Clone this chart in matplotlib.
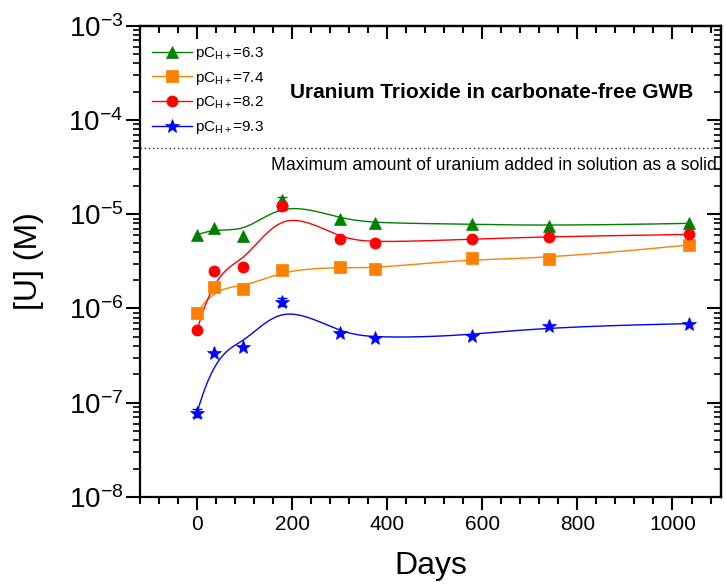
import numpy as np
import matplotlib
matplotlib.use("Agg")
import matplotlib.pyplot as plt
from matplotlib.ticker import MultipleLocator, LogLocator, NullFormatter
from matplotlib.lines import Line2D

plt.rcParams['font.family'] = ['Liberation Sans', 'DejaVu Sans']
plt.rcParams['mathtext.fontset'] = 'custom'
plt.rcParams['mathtext.rm'] = 'Liberation Sans'
plt.rcParams['mathtext.it'] = 'Liberation Sans:italic'
plt.rcParams['mathtext.bf'] = 'Liberation Sans:bold'
plt.rcParams['mathtext.default'] = 'regular'
plt.rcParams['axes.unicode_minus'] = False

# ---------------------------------------------------------------------------
# Data
# ---------------------------------------------------------------------------
days = [0, 36, 97, 178, 300, 375, 578, 740, 1034]

u_63 = [6.0e-6, 7.2e-6, 5.9e-6, 1.40e-5, 9.0e-6, 8.0e-6, 7.9e-6, 7.5e-6, 8.0e-6]
u_74 = [9.0e-7, 1.68e-6, 1.62e-6, 2.55e-6, 2.75e-6, 2.65e-6, 3.42e-6, 3.36e-6, 4.72e-6]
u_82 = [5.85e-7, 2.52e-6, 2.74e-6, 1.23e-5, 5.45e-6, 5.0e-6, 5.43e-6, 5.8e-6, 6.1e-6]
u_93 = [7.8e-8, 3.37e-7, 3.95e-7, 1.18e-6, 5.5e-7, 4.85e-7, 5.12e-7, 6.45e-7, 6.9e-7]

err_63 = [0, 0, 0, 1.2e-6, 0, 0, 0, 0, 0]
err_82 = [0, 0, 0, 1.2e-6, 0, 0, 0, 0, 0]
err_93 = [8e-9, 0, 0, 1.1e-7, 0, 0, 0, 0, 0]

labels = ['6.3', '7.4', '8.2', '9.3']
colors = ['#008000', '#FF8000', '#FF0000', '#0000FF']
markers = ['^', 's', 'o', '*']

max_added = 5e-5


# ---------------------------------------------------------------------------
# Clamped cubic B-spline with the data as control points (in x, log y)
# ---------------------------------------------------------------------------
def bspline_curve(xs, ys, deg=3, n_out=400):
    P = np.column_stack([np.asarray(xs, float), np.log10(ys)])
    n = len(P)
    knots = np.concatenate([np.zeros(deg), np.arange(n - deg + 1),
                            np.full(deg, n - deg)]).astype(float)
    t = np.linspace(0, n - deg, n_out)
    B = np.zeros((len(t), len(knots) - 1))
    for i in range(len(knots) - 1):
        B[:, i] = (t >= knots[i]) & (t < knots[i + 1])
    last = np.where(knots[:-1] < knots[-1])[0][-1]
    B[t == knots[-1], last] = 1.0
    for d in range(1, deg + 1):
        Bn = np.zeros((len(t), len(knots) - 1 - d))
        for i in range(len(knots) - 1 - d):
            den1 = knots[i + d] - knots[i]
            den2 = knots[i + d + 1] - knots[i + 1]
            a = (t - knots[i]) / den1 * B[:, i] if den1 > 0 else 0.0
            b = (knots[i + d + 1] - t) / den2 * B[:, i + 1] if den2 > 0 else 0.0
            Bn[:, i] = a + b
        B = Bn
    C = B @ P
    return C[:, 0], 10 ** C[:, 1]


fig = plt.figure(figsize=(7.26, 5.85), dpi=100)
ax = fig.add_axes([0.1928, 0.1504, 0.8003, 0.8057])
ax.set_yscale('log')

series = [u_63, u_74, u_82, u_93]
errs = [err_63, None, err_82, err_93]

for vals, err, c, m in zip(series, errs, colors, markers):
    cx, cy = bspline_curve(days, vals)
    ax.plot(cx, cy, '-', color=c, lw=1.0, zorder=2)
    ms = 10 if m == '*' else 8
    ax.plot(days, vals, linestyle='none', marker=m, color=c, ms=ms,
            mec=c, mew=0.5, zorder=3)
    if err is not None:
        d = np.array(days)
        v = np.array(vals)
        e = np.array(err)
        k = e > 0
        ax.errorbar(d[k], v[k], yerr=e[k], fmt='none', ecolor=c,
                    elinewidth=1.0, capsize=3.5, capthick=1.0, zorder=3)

ax.axhline(max_added, color='#333333', lw=1.0, ls=(0, (1, 2)), zorder=1)
ax.text(0.993, 0.704, 'Maximum amount of uranium added in solution as a solid',
        transform=ax.transAxes, ha='right', va='center', fontsize=12.7)
ax.text(0.606, 0.859, 'Uranium Trioxide in carbonate-free GWB',
        transform=ax.transAxes, ha='center', va='center', fontsize=15,
        fontweight='bold')

ax.set_xlim(-120, 1102)
ax.set_ylim(1e-8, 1e-3)

ax.xaxis.set_major_locator(MultipleLocator(200))
ax.xaxis.set_minor_locator(MultipleLocator(40))
ax.yaxis.set_major_locator(LogLocator(base=10, numticks=10))
ax.yaxis.set_minor_locator(LogLocator(base=10, subs=np.arange(2, 10), numticks=10))
ax.yaxis.set_minor_formatter(NullFormatter())

ax.tick_params(axis='x', which='major', direction='out', length=9, width=1.5,
               labelsize=15, pad=4)
ax.tick_params(axis='x', which='minor', direction='out', length=5, width=1.5)
ax.tick_params(axis='y', which='major', direction='out', length=10, width=1.5,
               labelsize=20, pad=2)
ax.tick_params(axis='y', which='minor', direction='out', length=5, width=1.2)
for s in ax.spines.values():
    s.set_linewidth(1.6)

secx = ax.secondary_xaxis('top')
secx.xaxis.set_major_locator(MultipleLocator(200))
secx.xaxis.set_minor_locator(MultipleLocator(40))
secx.tick_params(which='major', direction='in', length=9, width=1.5, labeltop=False)
secx.tick_params(which='minor', direction='in', length=5, width=1.5)
secx.spines['top'].set_linewidth(1.6)

secy = ax.secondary_yaxis('right')
secy.yaxis.set_major_locator(LogLocator(base=10, numticks=10))
secy.yaxis.set_minor_locator(LogLocator(base=10, subs=np.arange(2, 10), numticks=10))
secy.yaxis.set_minor_formatter(NullFormatter())
secy.tick_params(which='major', direction='in', length=10, width=1.5, labelright=False)
secy.tick_params(which='minor', direction='in', length=5, width=1.2, labelright=False)
secy.spines['right'].set_linewidth(1.6)

ax.set_xlabel('Days', fontsize=23, labelpad=12)
ax.set_ylabel('[U] (M)', fontsize=23)
ax.yaxis.set_label_coords(-0.165, 0.5)

handles = [Line2D([], [], color=c, marker=m, ms=(10 if m == '*' else 8), lw=1.0,
                  mec=c, mew=0.5)
           for c, m in zip(colors, markers)]
leg_labels = [r'pC$_{\mathregular{H+}}$=' + l for l in labels]
ax.legend(handles, leg_labels, loc='upper left', bbox_to_anchor=(0.0, 0.985),
          frameon=False, fontsize=11, handlelength=2.6, handletextpad=0.2,
          labelspacing=0.5, borderaxespad=0.4)

fig.savefig('out.png', dpi=100)
